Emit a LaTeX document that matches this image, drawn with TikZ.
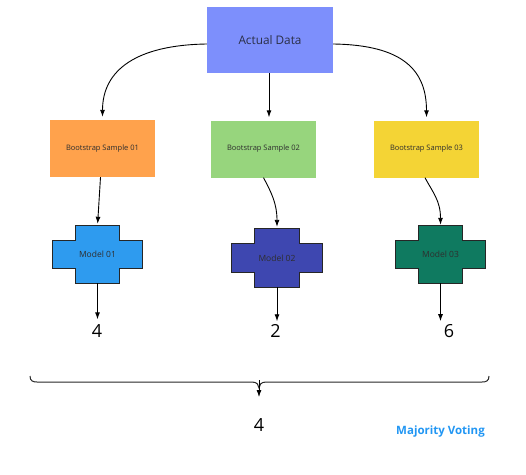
\documentclass[tikz,border=0pt]{standalone}
\usepackage{fontspec}
\setmainfont{Open Sans}
\usetikzlibrary{arrows.meta,backgrounds,calc}
\definecolor{adcol}{HTML}{7D8FFC}
\definecolor{orcol}{HTML}{FFA24C}
\definecolor{grcol}{HTML}{97D57D}
\definecolor{yecol}{HTML}{F4D435}
\definecolor{m1col}{HTML}{2E9BEF}
\definecolor{m2col}{HTML}{3E47B0}
\definecolor{m3col}{HTML}{0F7A60}
\definecolor{mvcol}{HTML}{2196F3}
\definecolor{txtcol}{HTML}{2A2E45}
\newcommand\plusoutline[2]{%
 \filldraw[fill=#2, draw=black!85, line width=0.8pt]
  ([xshift=22.5pt]#1.north west) -- ([xshift=-22.5pt]#1.north east) --
  ([xshift=-22.5pt,yshift=-15pt]#1.north east) -- ([yshift=-15pt]#1.north east) --
  ([yshift=15pt]#1.south east) -- ([xshift=-22.5pt,yshift=15pt]#1.south east) --
  ([xshift=-22.5pt]#1.south east) -- ([xshift=22.5pt]#1.south west) --
  ([xshift=22.5pt,yshift=15pt]#1.south west) -- ([yshift=15pt]#1.south west) --
  ([yshift=-15pt]#1.north west) -- ([xshift=22.5pt,yshift=-15pt]#1.north west) -- cycle;}
\begin{document}
\begin{tikzpicture}[x=1pt,y=-1pt,
  databox/.style={fill=adcol, minimum width=126pt, minimum height=66pt, inner sep=0pt, text=txtcol, font=\fontsize{11.8}{13}\selectfont},
  sampbox/.style={minimum width=105pt, minimum height=57pt, inner sep=0pt, text=black!82, font=\fontsize{7.5}{9}\selectfont},
  plusbox/.style={minimum width=89pt, minimum height=57pt, inner sep=0pt, text=black!82, font=\fontsize{8.5}{10}\selectfont},
  numtxt/.style={inner sep=0pt, font=\fontsize{18}{20}\selectfont},
  arr/.style={-{Latex[length=7pt,width=5pt]}, line width=0.9pt, black},
  bracestyle/.style={line width=1pt, black!85}
]
\useasboundingbox (0,0) rectangle (526,474);
% top
\node[databox] (ad) at (270,40) {Actual Data};
% samples
\node[sampbox, fill=orcol] (b1) at (102.5,148.5) {Bootstrap Sample 01};
\node[sampbox, fill=grcol] (b2) at (263.5,149) {Bootstrap Sample 02};
\node[sampbox, fill=yecol] (b3) at (426.5,149) {Bootstrap Sample 03};
% models
\node[plusbox] (m1) at (97.5,254.5) {Model 01};
\node[plusbox, minimum width=90pt, minimum height=58pt] (m2) at (277,258) {Model 02};
\node[plusbox] (m3) at (440.5,254.5) {Model 03};
\begin{scope}[on background layer]
  \plusoutline{m1}{m1col}
  \plusoutline{m2}{m2col}
  \plusoutline{m3}{m3col}
\end{scope}
% numbers
\node[numtxt] (n1) at (97,331) {4};
\node[numtxt] (n2) at (275.5,331) {2};
\node[numtxt] (n3) at (449,331) {6};
\node[numtxt] (res) at (259,425) {4};
\node[inner sep=0pt, text=mvcol, font=\fontsize{11.5}{13}\selectfont\bfseries] (mv) at (440.5,432) {Majority Voting};
% arrows top
\draw[arr, shorten >=3pt] ([yshift=-4pt]ad.west) .. controls +(-70,1) and +(0,-50) .. (b1.north);
\draw[arr, shorten >=3pt] ([yshift=-4pt]ad.east) .. controls +(70,1) and +(0,-50) .. (b3.north);
\draw[arr, shorten >=3pt] ([xshift=-1pt]ad.south) -- ([xshift=-1pt]ad.south |- b2.north);
% sample -> model
\draw[arr, shorten >=2pt] ([xshift=-2pt]b1.south) -- (m1.north);
\draw[arr, shorten >=2pt] (b2.south) .. controls +(8,15) and +(0,-25) .. (m2.north);
\draw[arr, shorten >=1pt] ([xshift=-1.5pt]b3.south) .. controls +(8,15) and +(0,-25) .. (m3.north);
% model -> number
\draw[arr] (m1.south) -- ([yshift=5pt]m1.south |- n1.north);
\draw[arr] (m2.south) -- ([yshift=3pt]m2.south |- n2.north);
\draw[arr] (m3.south) -- ([yshift=3pt]m3.south |- n3.north);
% brace
\coordinate (bl) at (30,376);
\coordinate (br) at (489,376);
\coordinate (bt) at (259,388);
\coordinate (bend) at (259,397);
\draw[bracestyle] (bl) .. controls +(0,5) and +(-4,0) .. ++(7,6) -- (252,382)
   .. controls +(5,0) and +(0,-3) .. (bt)
   .. controls +(0,-3) and +(-5,0) .. (266,382) -- (482,382)
   .. controls +(4,0) and +(0,5) .. (br);
\draw[arr, line width=0.8pt] (259,380) -- (bend);
\end{tikzpicture}
\end{document}
